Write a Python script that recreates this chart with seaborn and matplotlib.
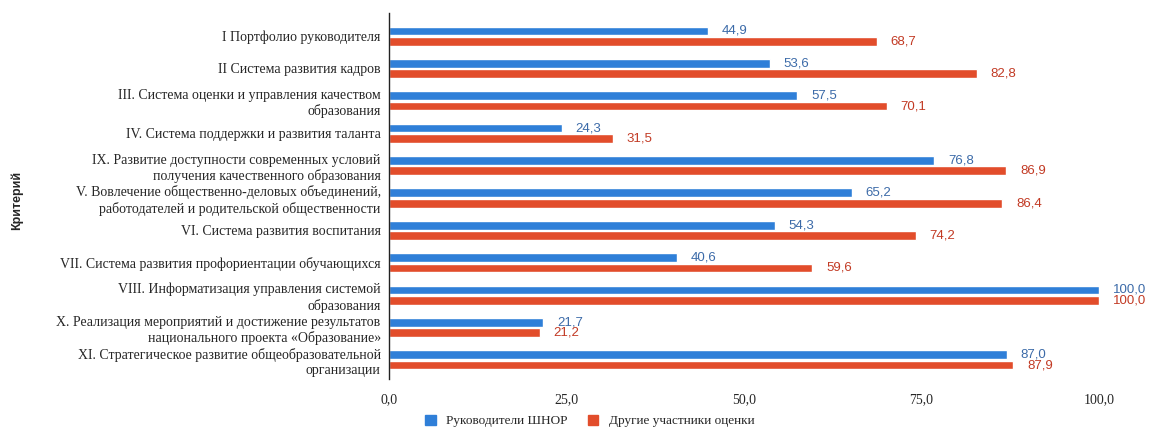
import numpy as np
import pandas as pd
import matplotlib
matplotlib.use("Agg")
import matplotlib.pyplot as plt
import seaborn as sns
from matplotlib.patches import Patch

# Chart data
criteria = [
    "I Портфолио руководителя",
    "II Система развития кадров",
    "III. Система оценки и управления качеством\nобразования",
    "IV. Система поддержки и развития таланта",
    "IX. Развитие доступности современных условий\nполучения качественного образования",
    "V. Вовлечение общественно-деловых объединений,\nработодателей и родительской общественности",
    "VI. Система развития воспитания",
    "VII. Система развития профориентации обучающихся",
    "VIII. Информатизация управления системой\nобразования",
    "X. Реализация мероприятий и достижение результатов\nнационального проекта «Образование»",
    "XI. Стратегическое развитие общеобразовательной\nорганизации",
]
series_names = ["Руководители ШНОР", "Другие участники оценки"]
shnor_values = [44.9, 53.6, 57.5, 24.3, 76.8, 65.2, 54.3, 40.6, 100.0, 21.7, 87.0]
other_values = [68.7, 82.8, 70.1, 31.5, 86.9, 86.4, 74.2, 59.6, 100.0, 21.2, 87.9]
x_ticks = [0, 25, 50, 75, 100]

bar_colors = ["#2f7fd8", "#e24d2b"]
label_colors = ["#3b6aa8", "#c23a24"]

df = pd.DataFrame({
    "Критерий": criteria * 2,
    "Значение": shnor_values + other_values,
    "Группа": [series_names[0]] * len(criteria) + [series_names[1]] * len(criteria),
})

sns.set_style("white")
plt.rcParams["font.family"] = ["Liberation Serif", "DejaVu Serif"]

fig = plt.figure(figsize=(11.52, 4.33), dpi=100)
ax = fig.add_axes([0.3377, 0.124, 0.6163, 0.845])

sns.barplot(data=df, y="Критерий", x="Значение", hue="Группа",
            order=criteria, hue_order=series_names, palette=bar_colors,
            orient="h", width=0.64, gap=0.15, legend=False, ax=ax,
            saturation=1, errorbar=None)

# value labels
for container, color in zip(ax.containers, label_colors):
    for bar in container:
        val = bar.get_width()
        ax.annotate(f"{val:.1f}".replace(".", ","),
                    xy=(val, bar.get_y() + bar.get_height() / 2),
                    xytext=(10, 0), textcoords="offset points",
                    ha="left", va="center", fontsize=9.5, color=color,
                    family=["Liberation Sans", "DejaVu Sans"],
                    annotation_clip=False)

ax.set_xlim(0, 100)
ax.set_ylim(10.6, -0.7)
ax.set_xticks(x_ticks)
ax.set_xticklabels([f"{t:.1f}".replace(".", ",") for t in x_ticks], fontsize=10)
ax.tick_params(axis="y", labelsize=10, length=0, pad=6)
ax.tick_params(axis="x", length=0, pad=10)
ax.set_xlabel("")
ax.set_ylabel("")

for side in ["top", "right", "bottom"]:
    ax.spines[side].set_visible(False)
ax.spines["left"].set_color("#222222")
ax.spines["left"].set_linewidth(1.0)

fig.text(0.015, 0.536, "Критерий", rotation=90, ha="center", va="center",
         fontsize=9, fontweight="bold", family=["Liberation Sans", "DejaVu Sans"])

handles = [Patch(facecolor=c, edgecolor=c) for c in bar_colors]
fig.legend(handles, series_names, loc="center", bbox_to_anchor=(0.512, 0.028),
           ncol=2, frameon=False, fontsize=9.5, handlelength=0.8, handleheight=0.8,
           handletextpad=0.8, columnspacing=1.5)

fig.savefig("out.png", dpi=100)
